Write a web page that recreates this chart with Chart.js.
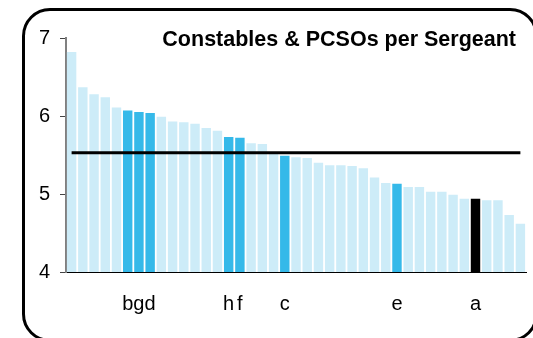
<!DOCTYPE html>
<html>
<head>
<meta charset="utf-8">
<script src="https://cdn.jsdelivr.net/npm/chart.js@4/dist/chart.umd.min.js"></script>
<style>
  html, body { margin: 0; padding: 0; background: #fff; overflow: hidden; }
  #wrap { position: relative; width: 533px; height: 338px; overflow: hidden; }
  #frame {
    position: absolute; left: 22px; top: 8px; width: 516px; height: 334px;
    box-sizing: border-box; border: 3px solid #000; border-radius: 28px;
    pointer-events: none;
  }
  canvas { position: absolute; left: 0; top: 0; }
</style>
</head>
<body>
<div id="wrap">
  <canvas id="chart" width="533" height="338"></canvas>
  <div id="frame"></div>
</div>
<script>
// Forces, ranked by constables & PCSOs per sergeant; named forces carry a letter
const forceLabels = [
  '', '', '', '', '', 'b', 'g', 'd', '', '',
  '', '', '', '', 'h', 'f', '', '', '', 'c',
  '', '', '', '', '', '', '', '', '', 'e',
  '', '', '', '', '', '', 'a', '', '', '',
  ''
];

const perSergeant = [
  6.82, 6.37, 6.28, 6.24, 6.11, 6.07, 6.05, 6.04, 5.99, 5.93,
  5.92, 5.90, 5.845, 5.81, 5.73, 5.72, 5.65, 5.64, 5.54, 5.49,
  5.47, 5.46, 5.40, 5.37, 5.37, 5.36, 5.33, 5.21, 5.14, 5.13,
  5.09, 5.09, 5.03, 5.03, 4.99, 4.94, 4.94, 4.92, 4.92, 4.73,
  4.62
];

// National average ratio
const averageRatio = 5.53;

const yTicks = [4, 5, 6, 7];
const chartTitle = 'Constables & PCSOs per Sergeant';

const FONT = '"Liberation Sans", Arial, sans-serif';
const PALE = '#cdecf8';
const BRIGHT = '#35b9e9';
const FOCUS = '#000000';

const barColours = forceLabels.map(l => l === 'a' ? FOCUS : (l ? BRIGHT : PALE));

const titlePlugin = {
  id: 'cornerTitle',
  afterDraw(chart) {
    const ctx = chart.ctx;
    ctx.save();
    ctx.font = 'bold 21.5px ' + FONT;
    ctx.fillStyle = '#000';
    ctx.textAlign = 'right';
    ctx.textBaseline = 'alphabetic';
    ctx.fillText(chartTitle, 516, 45.5);
    ctx.restore();
  }
};

new Chart(document.getElementById('chart'), {
  data: {
    labels: forceLabels,
    datasets: [
      {
        type: 'line',
        data: forceLabels.map(() => averageRatio),
        borderColor: '#000',
        borderWidth: 3,
        pointRadius: 0,
        pointHoverRadius: 0,
        order: 0
      },
      {
        type: 'bar',
        data: perSergeant,
        backgroundColor: barColours,
        borderWidth: 0,
        barPercentage: 0.84,
        categoryPercentage: 1.0,
        order: 1
      }
    ]
  },
  options: {
    responsive: false,
    animation: false,
    devicePixelRatio: 1,
    layout: { padding: { top: 38, right: 7, bottom: 0, left: 0 } },
    plugins: {
      legend: { display: false },
      tooltip: { enabled: false },
      title: { display: false }
    },
    scales: {
      x: {
        type: 'category',
        offset: true,
        // invisible tick marks push the letters down below the axis
        grid: { display: true, drawOnChartArea: false, drawTicks: true, tickLength: 15, color: 'rgba(0,0,0,0)' },
        border: { display: true, color: '#000', width: 1 },
        ticks: {
          autoSkip: false, maxRotation: 0, minRotation: 0,
          padding: 5,
          color: '#000',
          font: { family: FONT, size: 20 }
        },
        afterFit(scale) { scale.height = 66; }
      },
      y: {
        min: 4, max: 7,
        afterBuildTicks(scale) { scale.ticks = yTicks.map(v => ({ value: v })); },
        grid: { drawOnChartArea: false, drawTicks: true, tickLength: 6, color: '#444', lineWidth: 1 },
        border: { display: true, color: '#808080', width: 2 },
        ticks: {
          padding: 10,
          color: '#000',
          font: { family: FONT, size: 20 }
        },
        afterFit(scale) { scale.width = 66; }
      }
    }
  },
  plugins: [titlePlugin]
});
</script>
</body>
</html>
